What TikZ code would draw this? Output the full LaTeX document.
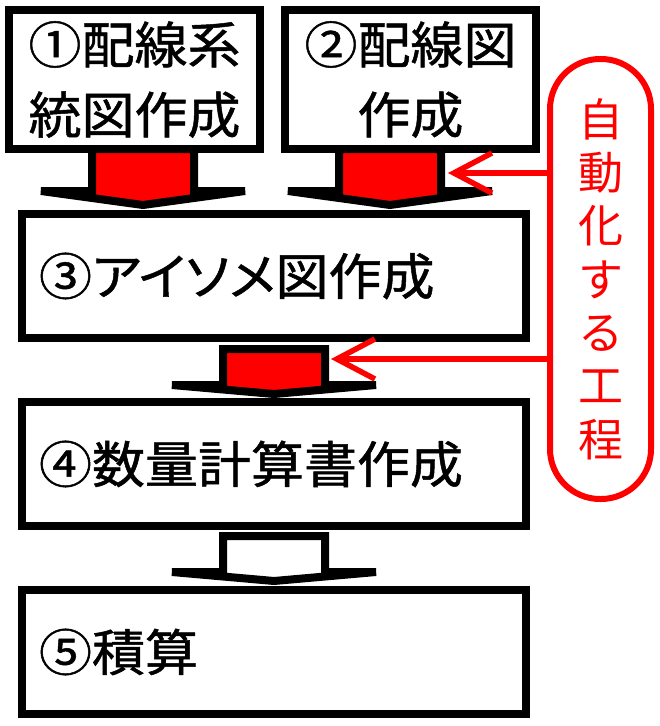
\documentclass[tikz,border=0pt]{standalone}
\usepackage{fontspec}
\newfontfamily\jpfont{Noto Sans CJK JP}
\newfontfamily\jpboxfont[FakeStretch=1.06,FakeBold=1]{Noto Sans CJK JP}
\newfontfamily\jppfont[RawFeature=+palt,FakeStretch=1.06,FakeBold=1]{Noto Sans CJK JP}
\usetikzlibrary{calc,arrows.meta}
\def\blockarrow[#1](#2)(#3:#4){\draw[#1] ($(#2)+(-51,0)$) -- ($(#3)+(-51,-#4)$) -- ($(#3)+(-102,-#4)$) -- (#3) -- ($(#3)+(102,-#4)$) -- ($(#3)+(51,-#4)$) -- ($(#2)+(51,0)$) -- cycle;}
\tikzset{
	box/.style={draw=black, fill=white, line width=8pt, inner sep=0pt, font=\jpboxfont\fontsize{50}{70}\selectfont},
	flowarrow/.style={draw=black, line width=8pt, line join=miter},
	capsule/.style={draw=red, line width=6pt, rounded corners=50pt, text=red, align=center, inner sep=0pt, minimum width=101pt, minimum height=440pt, font=\jpfont\fontsize{45}{53.3}\selectfont},
	autoline/.style={draw=red, line width=5.5pt, -{Straight Barb[length=38pt,width=40pt]}}
}

\begin{document}
\begin{tikzpicture}[x=1pt,y=-1pt]
			%%%%% START %%%%%
			\useasboundingbox (0,0) rectangle (660,726);
			
			\coordinate (a1top) at (143,149);
			\coordinate (a1tip) at (143,205);
			\coordinate (a2top) at (390,149);
			\coordinate (a2tip) at (390,205);
			\coordinate (a3top) at (274,349);
			\coordinate (a3tip) at (274,394);
			\coordinate (a4top) at (274,536);
			\coordinate (a4tip) at (274,581);
			
			\blockarrow[flowarrow,fill=red](a1top)(a1tip:14);
			\blockarrow[flowarrow,fill=red](a2top)(a2tip:14);
			\blockarrow[flowarrow,fill=red](a3top)(a3tip:9);
			\blockarrow[flowarrow,fill=white](a4top)(a4tip:9);
			
			\node[box, minimum width=251pt, minimum height=139pt, align=center] (b1) at (134.5,79.5) {①配線系\\統図作成};
			\node[box, minimum width=251pt, minimum height=139pt, align=center] (b2) at (410.5,79.5) {②配線図\\作成};
			\node[box, minimum width=504pt, minimum height=124pt, text width=470pt, align=left] (b3) at (274,276) {\jppfont ③アイソメ図作成};
			\node[box, minimum width=504pt, minimum height=124pt, text width=470pt, align=left] (b4) at (274,464) {④数量計算書作成};
			\node[box, minimum width=504pt, minimum height=124pt, text width=470pt, align=left] (b5) at (274,652) {⑤積算};
			
			\node[capsule] (cap) at (600.5,279) {自\\動\\化\\す\\る\\工\\程};
			
			\coordinate (r1) at (448,173);
			\coordinate (r2) at (331,359);
			\draw[autoline] (cap.west |- r1) -- (r1);
			\draw[autoline] (cap.west |- r2) -- (r2);
			
			%%%%% END %%%%%
\end{tikzpicture}
\end{document}
